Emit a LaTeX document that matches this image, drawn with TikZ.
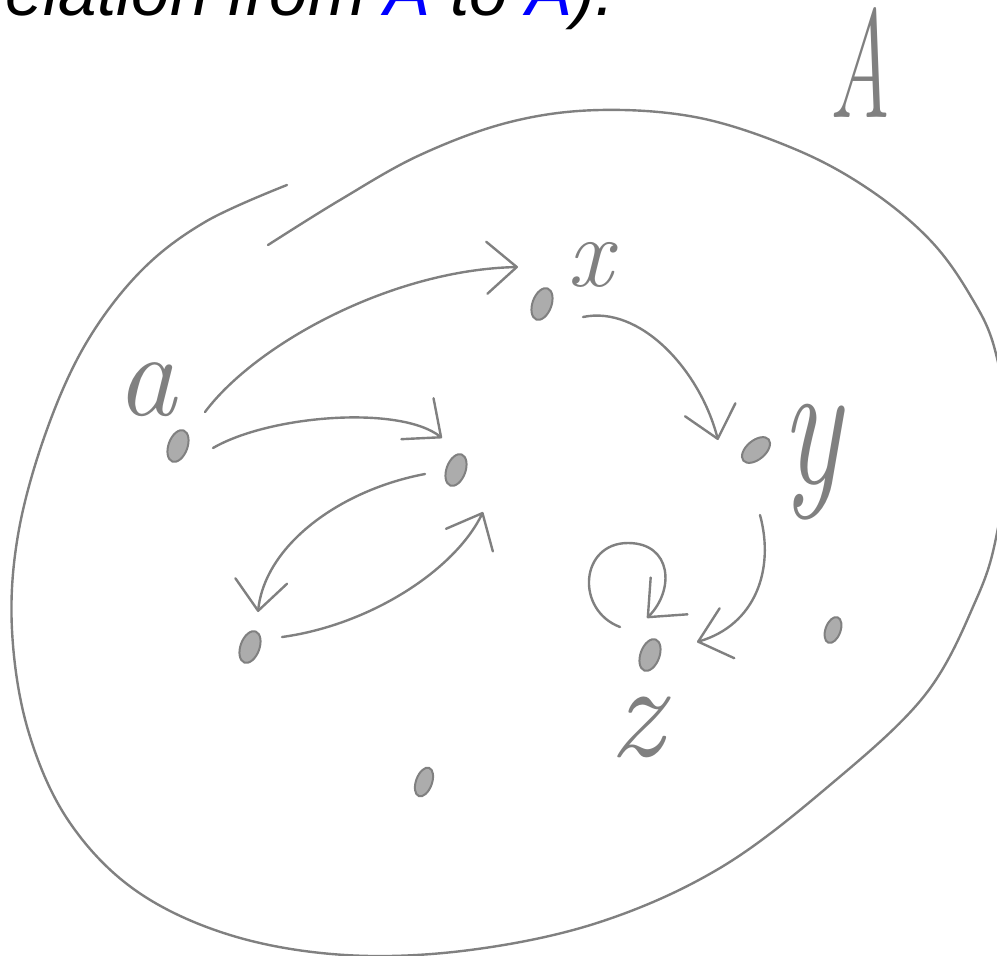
\documentclass[tikz,border=0pt]{standalone}
\usepackage{fontspec}
\usepackage{graphicx}
\newfontfamily\titlefont{Liberation Sans}
\usetikzlibrary{positioning,calc,shapes.geometric,arrows.meta}

\begin{document}
\begin{tikzpicture}[x=1pt, y=-1pt,
    ink/.style={draw=gray, line width=2.4pt, line cap=round, line join=round},
    pen/.style={ink, -{Straight Barb[length=30pt,width=52pt,round]}},
    spot/.style={ellipse, draw=gray, fill=gray!65, line width=2pt,
      minimum width=19pt, minimum height=33pt, inner sep=0pt, rotate=-20},
    hand/.style={text=gray, inner sep=0pt, font=\fontsize{#1}{#1}\selectfont\itshape}]
  \useasboundingbox (0,0) rectangle (997,956);

  \node[anchor=base west, inner sep=0pt,
    font=\titlefont\itshape\fontsize{69}{80}\selectfont] (title) at (-18,15)
    {relation from \textcolor{blue}{A} to \textcolor{blue}{A}).};

  % the set A
  \draw[ink] plot[smooth, tension=0.6] coordinates {(287,185) (205,222) (140,272)
    (85,345) (45,435) (18,535) (12,630) (28,730) (68,820) (135,890) (230,935)
    (345,955) (470,950) (600,922) (720,868) (830,785) (925,695) (976,600)
    (997,533) (1008,440) (995,350) (970,295) (930,240) (870,190) (797,150)
    (700,118) (600,110) (510,122) (420,155) (340,200) (268,245)};
  \node[hand=154] (setA) at (860,63) {\scalebox{0.55}[1]{A}};

  % elements
  \node[spot] (a) at (178,446) {};
  \node[spot] (x) at (542,304) {};
  \node[spot, rotate=-30] (y) at (756,450) {};
  \node[spot] (m) at (456,470) {};
  \node[spot] (l) at (250,647) {};
  \node[spot] (z) at (650,655) {};
  \node[spot, minimum width=15pt, minimum height=27pt] (r) at (833,630) {};
  \node[spot, minimum width=16pt, minimum height=30pt] (b) at (424,782) {};

  \node[hand=120] (la) at (146,390) {a};
  \node[hand=100] (lx) at (590,265) {x};
  \node[hand=180] (ly) at (811,462) {\scalebox{0.7}[1]{y}};
  \node[hand=135] (lz) at (636,727) {z};

  % the relation
  \draw[pen] ($(a)+(27,-34)$) .. controls (255,345) and (390,270) .. ($(x)+(-24,-37)$);
  \draw[pen] ($(a)+(35,2)$) .. controls (270,415) and (400,405) .. ($(m)+(-14,-32)$);
  \draw[pen] ($(m)+(-31,4)$) .. controls (340,490) and (265,545) .. ($(l)+(8,-35)$);
  \draw[pen] ($(l)+(32,-10)$) .. controls (370,625) and (455,570) .. ($(m)+(27,42)$);
  \draw[pen] ($(x)+(41,13)$) .. controls (640,305) and (700,370) .. ($(y)+(-38,-10)$);
  \draw[pen] ($(y)+(4,65)$) .. controls (775,570) and (755,625) .. ($(z)+(47,-13)$);
  \draw[pen] ($(z)+(-30,-28)$) .. controls (575,610) and (580,543) .. (628,543)
    .. controls (672,543) and (675,590) .. ($(z)+(-3,-37)$);
\end{tikzpicture}
\end{document}
